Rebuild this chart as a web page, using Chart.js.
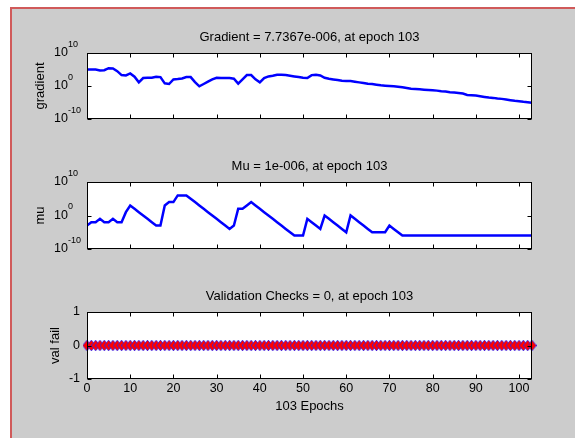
<!DOCTYPE html>
<html><head><meta charset="utf-8">
<script src="https://cdn.jsdelivr.net/npm/chart.js@4.4.0/dist/chart.umd.min.js"></script>
<style>
html,body{margin:0;padding:0;background:#fff;width:575px;height:438px;overflow:hidden;}
#fig{position:absolute;left:10px;top:7px;width:565px;height:431px;background:#cccccc;border-left:2px solid #d05a5a;border-top:2px solid #d05a5a;box-sizing:border-box;}
canvas{position:absolute;left:0;}
</style></head><body>
<div id="fig"></div>
<canvas id="c1" width="575" height="150" style="top:0;width:575px;height:150px"></canvas>
<canvas id="c2" width="575" height="130" style="top:150px;width:575px;height:130px"></canvas>
<canvas id="c3" width="575" height="158" style="top:280px;width:575px;height:158px"></canvas>
<script>
// ---- data ----
const epochs = Array.from({length:104}, (_, i) => i);
const xTickValues = [0,10,20,30,40,50,60,70,80,90,100];
const xTickLabels = ['0','10','20','30','40','50','60','70','80','90','100'];
// log10 of gradient per epoch
const gradientExp = [5.0,5.0,5.0,4.7,4.8,5.4,5.3,4.5,3.3,3.2,
  3.8,2.8,1.1,2.4,2.5,2.5,2.8,2.7,0.8,0.6,
  2.0,2.1,2.3,2.7,2.7,1.2,-0.1,0.6,1.3,2.0,
  2.5,2.4,2.4,2.4,2.2,0.7,2.0,3.3,3.3,2.0,
  1.1,2.4,2.9,3.1,3.4,3.4,3.3,3.1,2.9,2.7,
  2.5,2.4,3.3,3.4,3.2,2.5,2.2,2.0,1.8,1.6,
  1.5,1.5,1.3,1.1,0.9,0.7,0.6,0.4,0.2,0.1,
  0.0,-0.1,-0.2,-0.4,-0.6,-0.8,-0.9,-1.0,-1.1,-1.2,
  -1.3,-1.4,-1.6,-1.7,-1.9,-2.0,-2.1,-2.3,-2.7,-2.8,
  -2.9,-3.1,-3.3,-3.5,-3.6,-3.8,-3.9,-4.1,-4.3,-4.5,
  -4.6,-4.8,-4.9,-5.11];
// log10 of mu per epoch
const muExp = [-3,-2,-2,-1,-2,-2,-1,-2,-2,1,
  3,2,1,0,-1,-2,-3,-3,3,4,
  4,6,6,6,5,4,3,2,1,0,
  -1,-2,-3,-4,-3,2,2,3,4,3,
  2,1,0,-1,-2,-3,-4,-5,-6,-6,
  -6,-1,-2,-3,-4,0,-1,-2,-3,-4,
  -5,0,-1,-2,-3,-4,-5,-5,-5,-5,
  -3,-4,-5,-6,-6,-6,-6,-6,-6,-6,
  -6,-6,-6,-6,-6,-6,-6,-6,-6,-6,
  -6,-6,-6,-6,-6,-6,-6,-6,-6,-6,
  -6,-6,-6,-6];
const valFail = [0,0,0,0,0,0,0,0,0,0,
  0,0,0,0,0,0,0,0,0,0,
  0,0,0,0,0,0,0,0,0,0,
  0,0,0,0,0,0,0,0,0,0,
  0,0,0,0,0,0,0,0,0,0,
  0,0,0,0,0,0,0,0,0,0,
  0,0,0,0,0,0,0,0,0,0,
  0,0,0,0,0,0,0,0,0,0,
  0,0,0,0,0,0,0,0,0,0,
  0,0,0,0,0,0,0,0,0,0,
  0,0,0,0];
const logTicks = [{v:1e10, base:'10', sup:'10'},{v:1, base:'10', sup:'0'},{v:1e-10, base:'10', sup:'-10'}];
const linTicks = [{v:1, base:'1'},{v:0, base:'0'},{v:-1, base:'-1'}];

const FONT = '"Liberation Sans", Arial, Helvetica, sans-serif';

function diamond(){
  const c = document.createElement('canvas'); c.width = 9; c.height = 11;
  const g = c.getContext('2d');
  g.beginPath(); g.moveTo(4.5,0.6); g.lineTo(8.4,5.5); g.lineTo(4.5,10.4); g.lineTo(0.6,5.5); g.closePath();
  g.strokeStyle = '#2020ff'; g.lineWidth = 1.2; g.stroke();
  g.fillStyle = '#ff0000'; g.fill();
  return c;
}

const frame = {
  id: 'frame',
  beforeDraw(chart){
    const {ctx, chartArea:a} = chart;
    ctx.save(); ctx.fillStyle = '#fff';
    ctx.fillRect(a.left, a.top, a.right - a.left, a.bottom - a.top);
    ctx.restore();
  },
  afterDraw(chart, args, o){
    const {ctx, chartArea:a, scales:{x, y}} = chart;
    ctx.save();
    const L = Math.round(a.left) + 0.5, R = Math.round(a.right) - 0.5;
    const T = Math.round(a.top) + 0.5, B = Math.round(a.bottom) - 0.5;
    ctx.strokeStyle = '#000'; ctx.lineWidth = 1;
    ctx.strokeRect(L, T, R - L, B - T);
    ctx.beginPath();
    xTickValues.forEach(v => {
      const px = Math.round(x.getPixelForValue(v)) + 0.5;
      ctx.moveTo(px, T); ctx.lineTo(px, T + 4);
      ctx.moveTo(px, B); ctx.lineTo(px, B - 4);
    });
    o.yticks.forEach(t => {
      const py = Math.round(y.getPixelForValue(t.v)) + 0.5;
      ctx.moveTo(L, py); ctx.lineTo(L + 4, py);
      ctx.moveTo(R, py); ctx.lineTo(R - 4, py);
    });
    ctx.stroke();
    ctx.fillStyle = '#000';
    // y tick labels
    o.yticks.forEach(t => {
      const py = y.getPixelForValue(t.v);
      ctx.textBaseline = 'middle';
      if (t.sup !== undefined) {
        ctx.font = '12.5px ' + FONT; ctx.textAlign = 'right';
        ctx.fillText(t.base, o.baseRight, py);
        ctx.font = '9px ' + FONT; ctx.textAlign = 'left';
        ctx.fillText(t.sup, o.baseRight, py - 8.5);
      } else {
        ctx.font = '12.5px ' + FONT; ctx.textAlign = 'right';
        ctx.fillText(t.base, o.baseRight, py);
      }
    });
    // x tick labels
    if (o.xlabels) {
      ctx.font = '12.5px ' + FONT; ctx.textAlign = 'center'; ctx.textBaseline = 'middle';
      xTickValues.forEach((v, i) => ctx.fillText(xTickLabels[i], x.getPixelForValue(v), a.bottom + 10));
      ctx.font = '13px ' + FONT;
      ctx.fillText(o.xtitle, (a.left + a.right) / 2, a.bottom + 27.5);
    }
    // title
    ctx.font = '13px ' + FONT; ctx.textAlign = 'center'; ctx.textBaseline = 'middle';
    ctx.fillText(o.title, (a.left + a.right) / 2, a.top - 16);
    // y label
    ctx.translate(o.ylabelX, (a.top + a.bottom) / 2);
    ctx.rotate(-Math.PI / 2);
    ctx.fillText(o.ylabel, 0, 0);
    ctx.restore();
  }
};

function makeChart(id, pad, datasets, yScale, frameOpts){
  return new Chart(document.getElementById(id), {
    type: 'line',
    data: { datasets },
    options: {
      responsive: false, animation: false, devicePixelRatio: 1,
      layout: { padding: pad },
      plugins: { legend: {display:false}, tooltip: {enabled:false}, title:{display:false}, frame: frameOpts },
      scales: {
        x: { type:'linear', min:0, max:103, display:false },
        y: Object.assign({ display:false }, yScale)
      }
    },
    plugins: [frame]
  });
}

makeChart('c1', {left:87, right:43, top:53, bottom:31}, [{
  data: epochs.map((e, i) => ({x:e, y:Math.pow(10, gradientExp[i])})),
  borderColor:'#0000ff', borderWidth:2.5, pointRadius:0, tension:0, fill:false
}], {type:'logarithmic', min:1e-10, max:1e10},
{title:'Gradient = 7.7367e-006, at epoch 103', ylabel:'gradient', ylabelX:40, yticks:logTicks, baseRight:68, xlabels:false});

makeChart('c2', {left:87, right:43, top:32, bottom:31}, [{
  data: epochs.map((e, i) => ({x:e, y:Math.pow(10, muExp[i])})),
  borderColor:'#0000ff', borderWidth:2.5, pointRadius:0, tension:0, fill:false
}], {type:'logarithmic', min:1e-10, max:1e10},
{title:'Mu = 1e-006, at epoch 103', ylabel:'mu', ylabelX:40, yticks:logTicks, baseRight:68, xlabels:false});

const dia = diamond();
makeChart('c3', {left:87, right:43, top:32, bottom:59}, [{
  data: epochs.map((e, i) => ({x:e, y:valFail[i]})),
  borderColor:'#0000ff', borderWidth:1.5, tension:0, fill:false, clip:false,
  pointStyle: dia, pointRadius:5, pointBackgroundColor:'#ff0000', pointBorderColor:'#0000ff'
}], {type:'linear', min:-1, max:1},
{title:'Validation Checks = 0, at epoch 103', ylabel:'val fail', ylabelX:55, yticks:linTicks, baseRight:80, xlabels:true, xtitle:'103 Epochs'});
</script>
</body></html>
